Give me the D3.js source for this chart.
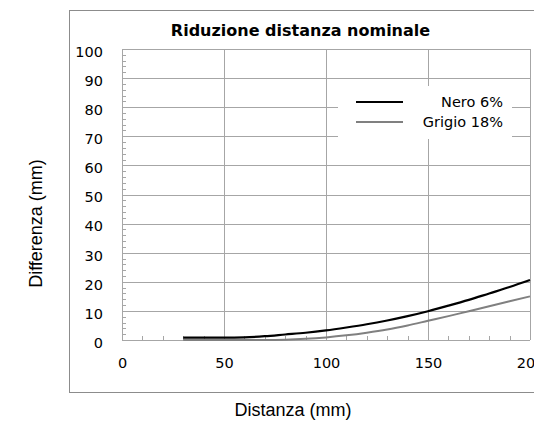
<!DOCTYPE html>
<html><head><meta charset="utf-8">
<script src="https://cdn.jsdelivr.net/npm/d3@7"></script>
<style>body{margin:0;background:#fff}svg{display:block}</style>
</head><body>
<script>
const title = "Riduzione distanza nominale";
const xLabel = "Distanza (mm)";
const yLabel = "Differenza (mm)";
const seriesNames = ["Nero 6%", "Grigio 18%"];
const distanza = [30,40,50,60,70,80,90,100,110,120,130,140,150,160,170,180,190,200];
const nero =     [0.8,0.8,0.8,0.9,1.3,1.9,2.5,3.3,4.3,5.4,6.7,8.2,9.9,11.8,13.8,16.0,18.2,20.6];
const grigio =   [0,0,0,0,0,0.1,0.4,0.9,1.6,2.5,3.6,5.0,6.6,8.2,9.9,11.6,13.3,15.0];
const xTicks = [0,50,100,150,200];
const yTicks = [0,10,20,30,40,50,60,70,80,90,100];

const W=534,H=421;
const svg=d3.select("body").append("svg").attr("width",W).attr("height",H);
const L=122,R=530,T=49,B=340;
const x=d3.scaleLinear().domain([0,200]).range([L,R]);
const y=d3.scaleLinear().domain([0,100]).range([B,T]);
const grid="#a6a6a6";
const tickFont="'DejaVu Sans', sans-serif";

// outer frame
svg.append("rect").attr("x",69.5).attr("y",10.5).attr("width",520).attr("height",382)
  .attr("fill","#fff").attr("stroke","#8c8c8c").attr("stroke-width",1);

// gridlines
svg.append("g").selectAll("line").data(yTicks).join("line")
  .attr("x1",L).attr("x2",R).attr("y1",d=>Math.round(y(d))+0.5).attr("y2",d=>Math.round(y(d))+0.5)
  .attr("stroke",grid).attr("stroke-width",1);
svg.append("g").selectAll("line").data(xTicks).join("line")
  .attr("y1",T).attr("y2",B).attr("x1",d=>Math.round(x(d))+0.5).attr("x2",d=>Math.round(x(d))+0.5)
  .attr("stroke",grid).attr("stroke-width",1);

// minor ticks
const yMinor=d3.range(0,101,2);
svg.append("g").selectAll("line").data(yMinor).join("line")
  .attr("x1",L).attr("x2",L+4).attr("y1",d=>Math.round(y(d))+0.5).attr("y2",d=>Math.round(y(d))+0.5)
  .attr("stroke",grid);
const xMinor=d3.range(0,201,10);
svg.append("g").selectAll("line").data(xMinor).join("line")
  .attr("y1",B).attr("y2",B-4).attr("x1",d=>Math.round(x(d))+0.5).attr("x2",d=>Math.round(x(d))+0.5)
  .attr("stroke",grid);

// axis tick labels via d3 axes
const yAxis=svg.append("g").attr("transform",`translate(103,0)`)
  .call(d3.axisLeft(y).tickValues(yTicks).tickSize(0).tickPadding(0));
yAxis.select(".domain").remove();
yAxis.selectAll("text").attr("font-family",tickFont).attr("font-size",14.5).attr("fill","#000")
  .attr("x",0).attr("dy",0).attr("y",7.3);
const xAxis=svg.append("g").attr("transform",`translate(0,368)`)
  .call(d3.axisBottom(x).tickValues(xTicks).tickSize(0).tickPadding(0));
xAxis.select(".domain").remove();
xAxis.selectAll("text").attr("font-family",tickFont).attr("font-size",14.5).attr("fill","#000")
  .attr("y",0).attr("dy",0);

// lines
const line=arr=>d3.line().x((d,i)=>x(distanza[i])).y(d=>y(d)).curve(d3.curveMonotoneX)(arr);
svg.append("path").attr("d",line(grigio)).attr("fill","none").attr("stroke","#808080").attr("stroke-width",2);
svg.append("path").attr("d",line(nero)).attr("fill","none").attr("stroke","#000").attr("stroke-width",2.2);

// legend
svg.append("rect").attr("x",338).attr("y",86).attr("width",174).attr("height",53).attr("fill","#fff");
const colors=["#000","#808080"];
const lg=svg.append("g").selectAll("g").data(seriesNames).join("g")
  .attr("transform",(d,i)=>`translate(0,${102+i*20})`);
lg.append("line").attr("x1",356).attr("x2",403).attr("y1",0).attr("y2",0)
  .attr("stroke",(d,i)=>colors[i]).attr("stroke-width",2);
lg.append("text").attr("x",503).attr("y",5.3).attr("text-anchor","end")
  .attr("font-family",tickFont).attr("font-size",14.5).text(d=>d);

// title
svg.append("text").attr("x",300.5).attr("y",36).attr("text-anchor","middle")
  .attr("font-family",tickFont).attr("font-weight","bold").attr("font-size",16).text(title);
// axis titles
svg.append("text").attr("x",293).attr("y",416).attr("text-anchor","middle")
  .attr("font-family","'Liberation Sans', Arial, sans-serif").attr("font-size",18).text(xLabel);
svg.append("text").attr("transform","translate(42,223.5) rotate(-90)").attr("text-anchor","middle")
  .attr("font-family","'Liberation Sans', Arial, sans-serif").attr("font-size",18).text(yLabel);
</script>
</body></html>
